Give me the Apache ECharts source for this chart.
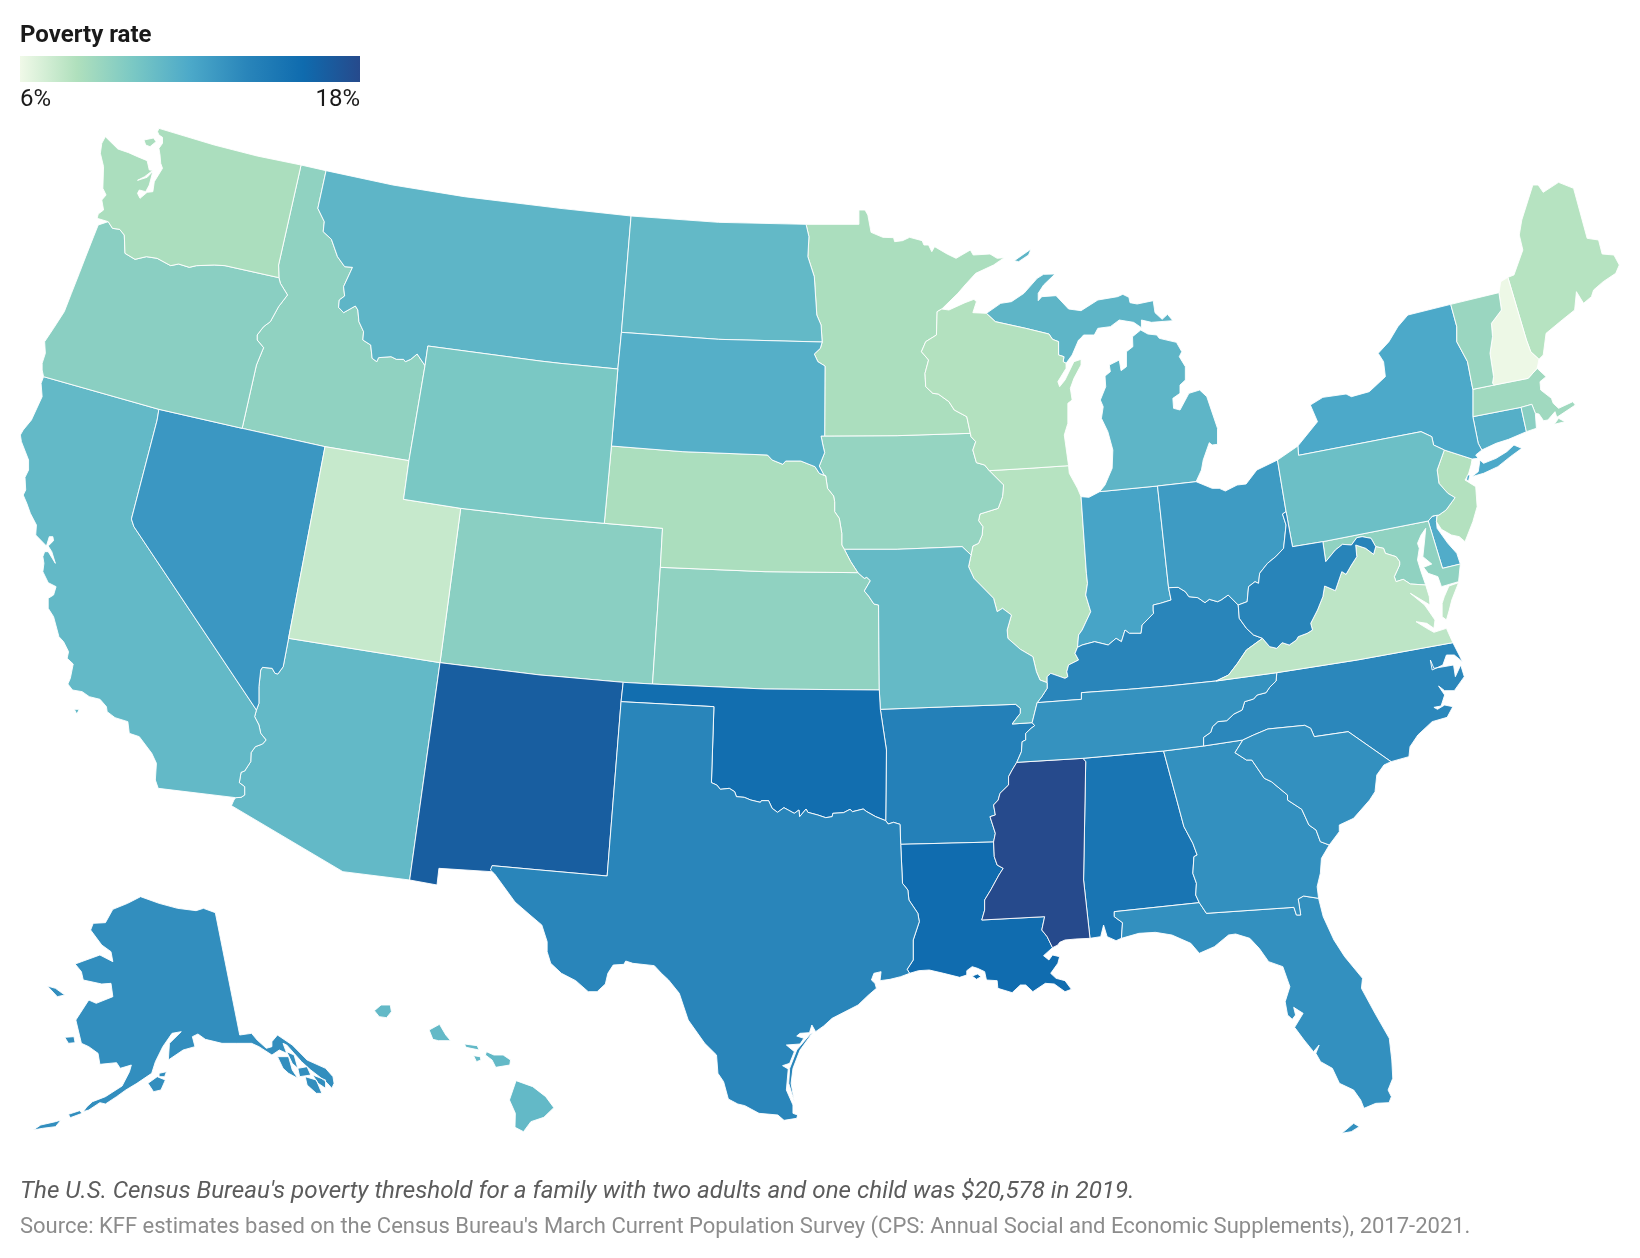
<!DOCTYPE html>
<html>
<head>
<meta charset="utf-8">
<title>Poverty rate</title>
<script src="https://cdn.jsdelivr.net/npm/echarts@6/dist/echarts.min.js"></script>
<style>
  html, body { margin: 0; background: #fff; }
  #chart { width: 1640px; height: 1258px; }
</style>
</head>
<body>
<div id="chart"></div>
<script>
// values
var stateNames = ['AL','AK','AZ','AR','CA','CO','CT','DE','DC','FL','GA','HI','ID','IL','IN','IA','KS','KY','LA','ME','MD','MA','MI','MN','MS','MO','MT','NE','NV','NH','NJ','NM','NY','NC','ND','OH','OK','OR','PA','RI','SC','SD','TN','TX','UT','VT','VA','WA','WV','WI','WY'];
var povertyRates = [15.2,13.5,11,14.4,11,9.4,11.6,11.8,17.8,13.4,13.4,11,9.2,7.8,12.3,9,9.2,14,15.9,7.8,9.2,8.6,11.2,8.2,18,10.9,11.2,8.2,13,6.1,7.9,16.8,12,13.9,11,12.8,15.8,9.4,10.6,9.4,13.4,11.6,13.3,14,7.3,8.8,7.6,8.2,14.1,7.9,10];
var scaleMin = 6, scaleMax = 18;
var scaleColors = ['#f0f9e8','#b0e0bd','#7ac8c4','#4ca9c9','#2985ba','#0f6bae','#264a8c'];

// outlines traced on enlarged sheets, each sheet has its own origin and x scale
function sheet(ox, oy, sx) {
  return function () {
    var pts = [];
    for (var i = 0; i < arguments.length; i += 2) {
      pts.push([ox + arguments[i] / sx, oy + arguments[i + 1] / 3]);
    }
    return pts;
  };
}
var A = sheet(0, 0, 2.8), B = sheet(540, 130, 2.8), C = sheet(1080, 160, 2.8), D = sheet(0, 420, 2.8),
    E = sheet(540, 560, 2.8), F = sheet(1000, 600, 2.8), G = sheet(0, 880, 2.703), H = sheet(700, 900, 2.119);
function r(a) { return a.slice().reverse(); }
function ring() {
  var out = [];
  for (var i = 0; i < arguments.length; i++) out = out.concat(arguments[i]);
  out.push(out[0]);
  return out;
}

// shared borders
var wa_id = A(843,495,780,795,781,833);
var wa_or = A(781,833,630,797,600,795,550,797,530,802,500,792,478,797,440,775,410,770,378,778,350,760,348,705,335,688,315,685,303,665);
var or_id = A(781,833,785,850,805,885,780,920,757,965,738,980,720,1005,720,1020,738,1043,718,1095,678,1285);
var or_nv = A(678,1285,445,1228);
var or_ca = A(445,1228,122,1130);
var id_mt = A(913,512,890,625,908,665,905,695,928,718,945,770,965,800,987,802,962,860,965,888,950,900,948,922,962,938,995,918,1002,930,1005,965,1018,995,1016,1020,1038,1035,1042,1075,1055,1085,1060,1073,1095,1070,1110,1078,1130,1078,1135,1085,1150,1078,1168,1062,1190,1097);
var id_wy = A(1190,1097).concat(D(1145,122));
var id_ut = D(1145,122,910,80);
var id_nv = D(910,80).concat(A(678,1285));
var mt_nd = B(255,258,228,607);
var mt_sd = B(228,607,218,717);
var mt_wy = B(218,717).concat(A(1568,1090), B(0,693), A(1198,1038,1190,1097));
var wy_sd = B(218,717,200,948);
var wy_ne = B(200,948,180,1180);
var wy_co = B(180,1180,0,1163).concat(D(1290,265));
var wy_ut = D(1290,265,1130,238,1145,122);
var ut_co = D(1290,265,1232,728);
var ut_az = D(1232,728,808,655);
var ut_nv = D(808,655,910,80);
var nv_az = D(808,655,793,740,778,762,770,760,762,745,735,742,730,750,725,800,725,850,718,870);
var nv_ca = D(718,870,375,320,368,297,440,0).concat(A(445,1228));
var ca_az = D(718,870,713,890,725,915,730,940,745,960,735,972,715,980,703,998,702,1025,685,1053,675,1057,670,1088,685,1100,685,1125,675,1132,660,1133);
var az_nm = D(1232,728,1147,1380);
var co_nm = D(1232,728).concat(E(0,345), D(1568,770), E(233,367));
var co_ok = E(233,367,315,372);
var co_ks = E(315,372,337,22);
var co_ne = E(337,22).concat(B(343,1195,180,1180));
var nm_ok = E(233,367,227,425);
var nm_tx = E(227,425,188,948,0,930).concat(D(1378,1337));
var ok_ks = E(315,372,630,387,950,390);
var ok_mo = E(950,390,953,448);
var ok_ar = E(953,448,970,570,968,782);
var ok_tx = E(968,782,940,770,915,755,905,747,875,755,868,748,850,758,820,760,818,770,800,773,778,765,750,757,745,747,727,770,725,750,712,760,695,750,683,743,665,757,650,745,640,722,620,722,617,727,590,720,572,712,550,710,545,695,530,685,505,688,495,675,480,668,487,440,227,425);
var ks_mo = E(950,390,948,135,935,132,920,108,908,93,925,62,915,52,908,55,890,38);
var ks_ne = E(890,38,630,35,337,22);
var ne_sd = B(200,948,400,965,637,975,650,990,680,1003,688,993,730,993,770,1010,782,1030,800,1038);
var ne_ia = B(800,1038,805,1075,822,1098,825,1115,825,1145,838,1165,845,1210,845,1245,852,1258);
var ne_mo = B(852,1258,870,1295).concat(E(890,38));
var nd_mn = B(745,283,753,320,750,380,768,440,775,555,787,585,790,636);
var nd_sd = B(790,636,500,628,228,607);
var sd_mn = B(790,636,785,655,768,672,778,695,798,708,797,918);
var sd_ia = B(797,918,787,918,792,945,797,968,782,1008,795,1035,800,1038);
var mn_wi = B(1125,537,1112,545,1110,615,1080,635,1068,665,1088,690,1078,730,1080,770,1100,790,1115,792,1145,815,1160,840,1195,860,1205,910);
var mn_ia = B(1205,910,1000,917,797,918);
var wi_mi = B(1250,550,1275,575,1360,595,1425,612,1435,628,1452,635,1452,675,1467,680,1465,695,1473,700);
var wi_il = B(1480,1007,1370,1015,1258,1022);
var wi_ia = B(1258,1022,1245,1005,1222,998,1212,960,1220,935,1207,920,1205,910);
var il_ia = B(1258,1022,1298,1065,1295,1100,1283,1135,1232,1152,1228,1172,1240,1190,1238,1215,1228,1240,1212,1248,1207,1275);
var ia_mo = B(1207,1275,1182,1250,1000,1258,852,1258);
var il_in = B(1515,1100,1530,1330).concat(E(1533,70,1528,105,1542,155,1518,210,1508,225,1505,262));
var il_ky = E(1505,262,1498,280,1508,300,1480,315,1475,335,1478,350,1470,355,1430,340,1420,350,1420,368);
var il_mo = E(1420,368,1400,360,1390,335,1380,290,1345,268,1310,235,1308,210,1320,165,1295,145,1280,155,1270,115,1215,55).concat(B(1200,1310,1207,1275));
var mo_ky = E(1420,368,1420,385,1405,410,1392,428);
var mo_tn = E(1392,428,1378,488);
var mo_ar = E(1378,488,1322,492,1345,460,1345,445,1332,433,1150,440,953,448);
var ar_tn = E(1378,488,1385,497,1375,505,1360,520,1360,540,1350,545,1348,575,1335,607);
var ar_ms = E(1335,607,1322,630,1312,650,1312,675,1288,700,1283,720,1270,735,1275,765,1260,770,1275,820,1270,846);
var ar_la = E(1270,846,1010,853);
var ar_tx = E(1010,853,1008,793,990,787,975,792,968,782);
var la_ms = E(1270,846,1272,890,1280,915,1297,925,1285,945,1262,990,1245,1020,1245,1050,1237,1080,1413,1070,1405,1110,1420,1130,1435,1163);
var la_tx = E(1035,1240,1028,1228,1045,1200,1045,1140,1062,1085,1058,1060,1033,1020,1030,990,1015,970,1010,853);
var ms_tn = E(1335,607,1520,595);
var ms_al = E(1520,595,1528,605,1525,780,1522,960,1540,1135);
var tn_ky = E(1392,428).concat(F(228,298,228,278,360,268,470,258,605,243));
var tn_va = F(605,243,775,218);
var tn_nc = F(775,218,773,243,755,262,745,278,720,285,710,297,685,305,678,330,655,342,635,362,610,365,595,380,590,397,570,412,570,438);
var tn_ga = F(570,438,458,453);
var tn_al = F(458,453).concat(E(1520,595));
var ky_va = F(605,243,640,225,665,190,690,150,735,115);
var ky_wv = F(735,115,710,105,690,85,670,55).concat(C(443,1335));
var ky_oh = C(443,1335,415,1305,395,1320,385,1325,362,1318,350,1328,330,1313,305,1310,295,1295,275,1282,248,1283);
var ky_in = C(248,1283,255,1320,225,1330,205,1335,205,1350).concat(F(430,40,398,75,395,100,362,100,350,90,340,125,325,115,303,135,265,125,230,135), E(1505,262));
var in_mi = C(55,995,217,978);
var in_oh = C(217,978,248,1283);
var oh_mi = C(217,978,325,965);
var oh_pa = C(553,900,577,1055);
var oh_wv = C(577,1055,567,1062,577,1095,570,1165,548,1190,525,1210,503,1240,500,1270,490,1265,472,1280,468,1325,443,1335);
var wv_pa = C(577,1055,595,1160,680,1145);
var wv_md = C(680,1145,688,1205,715,1170,735,1153,760,1155,775,1133,790,1130,815,1135,828,1160,822,1183);
var wv_va = C(822,1183,800,1165,772,1155,775,1190,760,1215,745,1243,733,1235,715,1292,685,1278,680,1310,665,1350).concat(F(870,70,875,90,860,100,835,110,830,120,810,135,790,128,775,145,755,140,735,115));
var md_pa = C(680,1145,975,1083);
var md_va = C(885,1265,880,1250,895,1215,895,1205,885,1190,855,1180,850,1165,828,1160,822,1183);
var pa_ny = C(610,858,612,886,955,815,985,830,990,855,1020,870);
var pa_nj = C(1020,870,1000,930,1005,970,1030,1000,1050,1013,1025,1050,1005,1065,987,1068);
var ny_vt = C(1038,433,1055,500,1055,545,1085,605,1100,688);
var ny_ma = C(1100,688,1100,770);
var ny_ct = C(1100,770,1115,850,1125,870);
var ny_nj = C(1098,897,1020,870);
var ct_ri = C(1235,742,1250,815);
var ct_ma = C(1235,742,1100,770);
var vt_nh = C(1173,398,1180,450,1152,490,1155,530,1148,580,1158,650,1155,670,1160,675);
var nh_me = C(1198,352,1250,540,1262,575,1285,598);
var va_nc = F(775,218,1000,180,1268,128);
var nc_sc = F(1095,485,975,395,880,410,870,385,853,376,750,387,710,405,680,420);
var nc_ga = F(680,420,570,438);
var sc_ga = F(680,420,658,458,690,480,705,480,740,535,760,545,805,585,805,600,845,628,865,675,885,690,897,725,922,735);
var sc_coast = F(922,735,950,695,950,675,990,655,1035,600,1050,575,1055,525,1075,495,1095,485);
var ga_fl = F(892,895,850,888,835,897,842,945,830,945,823,922,578,940,558,908);
var ga_al = F(558,908,548,885,550,850,540,820,543,770,552,765,540,730,515,680,495,600,458,453);
var al_fl = F(558,908,320,935,320,950,343,968,340,1015);

// state shapes, a list of rings each
var shapes = {
  WA: [ring(A(445,385,600,435,720,468,843,495), wa_id, wa_or, A(272,655,275,642,290,630,285,600,297,585,288,565,290,500,281,460,285,430,295,410,330,447,360,458,385,470,412,482,418,510,428,511,405,530,385,541,412,532,428,514,418,555,408,575,390,570,385,580,392,595,412,577,428,575,432,545,455,505,450,490,448,465,445,445,455,430,455,412,445,405,441,395)),
       ring(A(403,420,430,414,437,425,420,440,408,435))],
  OR: [ring(r(wa_or), or_id, or_nv, or_ca, A(118,1110,118,1090,127,1060,125,1025,150,985,180,935,200,880,222,820,240,770,262,710,275,675))],
  ID: [ring(A(843,495), id_mt, id_wy, id_ut, id_nv, r(or_id), r(wa_id))],
  MT: [ring(id_mt.slice(0, 1), A(1100,555,1300,590,1568,625), mt_nd, mt_sd, mt_wy, r(id_mt))],
  WY: [ring(r(mt_wy), wy_sd, wy_ne, wy_co, wy_ut, r(id_wy))],
  UT: [ring(r(id_ut), r(wy_ut), ut_co, ut_az, ut_nv)],
  NV: [ring(r(ut_nv), nv_az, nv_ca, r(or_nv), r(id_nv))],
  CA: [ring(r(or_ca), r(nv_ca), ca_az, D(443,1105,435,1080,438,1030,425,1000,390,950,362,940,358,905,322,893,300,875,298,860,280,838,250,830,230,815,203,810,190,792,197,775,205,732,188,715,192,695,178,665,165,650,150,590,135,565,135,535,150,525,157,500,135,488,120,455,123,430,120,410,125,395,135,395,155,430,145,395,135,378,150,362,148,350,138,350,130,378,100,345,102,315,85,280,75,250,65,225,72,210,70,172,80,150,80,120,60,65,57,45,65,30,88,0), A(118,1190,115,1150)),
       ring(D(208,868,222,868,215,882))],
  AZ: [ring(r(ut_az), az_nm, D(960,1355,648,1157,655,1140), r(ca_az), r(nv_az))],
  CO: [ring(wy_co, ut_co, co_nm, co_ok, co_ks, co_ne)],
  NM: [ring(r(co_nm), az_nm, [[437,885]], D(1229,1345,1376,1355), r(nm_tx), r(nm_ok))],
  OK: [ring(co_ok, ok_ks, ok_mo, ok_ar, ok_tx, r(nm_ok))],
  KS: [ring(r(co_ks), ok_ks, ks_mo, ks_ne)],
  NE: [ring(ne_sd, ne_ia, ne_mo, ks_ne, co_ne, r(wy_ne))],
  ND: [ring(B(255,258,500,277,745,283), nd_mn, nd_sd, r(mt_nd))],
  SD: [ring(r(nd_sd), sd_mn, sd_ia, r(ne_sd), r(wy_sd), r(mt_sd))],
  MN: [ring(B(745,283,893,283,893,240,910,240,918,255,927,307,960,322,990,323,993,335,1015,332,1035,322,1070,332,1075,345,1088,345,1097,365,1105,350,1140,372,1165,385,1205,360,1213,375,1260,372,1280,385,1300,383,1270,405,1220,430,1190,465,1170,490), mn_wi, mn_ia, r(sd_mn), r(nd_mn))],
  IA: [ring(r(mn_ia), r(wi_ia), il_ia, ia_mo, r(ne_ia), r(sd_ia))],
  WI: [ring(B(1125,537,1145,540,1190,518,1215,508,1222,515,1212,548), wi_mi, B(1473,715,1450,755,1455,770,1470,750,1495,695,1515,688,1515,705,1495,745,1485,775,1490,810,1478,820,1478,880,1468,915), wi_il, wi_ia, r(mn_wi))],
  IL: [ring(r(wi_il), B(1482,1030,1505,1075), il_in, il_ky, il_mo, r(il_ia))],
  MO: [ring(r(ia_mo), r(il_mo), mo_ky, mo_tn, mo_ar, r(ok_mo), ks_mo, r(ne_mo))],
  AR: [ring(r(mo_ar), ar_tn, ar_ms, ar_la, ar_tx, r(ok_ar))],
  LA: [ring(r(ar_la), la_ms, E(1410,1187,1425,1200,1435,1185,1455,1190,1450,1210,1430,1240,1445,1255,1470,1262,1488,1288,1470,1295,1440,1272,1415,1270,1380,1295,1360,1275,1345,1275,1322,1298,1282,1285,1280,1262,1250,1260,1245,1235,1225,1225,1210,1220,1195,1232,1195,1245,1175,1252,1130,1240,1090,1230,1060,1232), la_tx),
       ring(E(1210,1248,1225,1242,1235,1250,1222,1258))],
  TX: [ring(r(nm_tx), r(ok_tx), r(ar_tx), r(la_tx), E(1010,1250,980,1258,952,1262,955,1235,935,1240,928,1260,938,1270,942,1285,920,1305), H(335,315,280,355,262,378,245,395,237,375,232,398,212,400,205,408,220,415,212,432,183,435,200,455,190,490,175,497,187,507,183,570,197,615,197,640,207,645,205,655,178,661,165,645,125,640,95,617,80,612,60,597,50,545,38,520,35,465,10,430), E(415,1380,390,1300,360,1260,340,1240,320,1217,260,1210,240,1203,235,1213,205,1215,190,1240,183,1272,160,1295,135,1295,100,1262,60,1240,30,1210,20,1175,20,1145,5,1095), [[530,915],[515,902],[499,880]], D(1385,1362,1373,1350)),
       ring(H(200,605,188,550,190,505,205,450,232,405,240,395,212,450,197,505,193,550))],
  MS: [ring(r(ar_ms), ms_tn, ms_al, E(1500,1137,1470,1140,1455,1147,1450,1155), r(la_ms))],
  TN: [ring(tn_ky, tn_va, tn_nc, tn_ga, tn_al, r(ms_tn), r(ar_tn), r(mo_tn))],
  KY: [ring(il_ky, mo_ky, tn_ky, ky_va, ky_wv, ky_oh, ky_in)],
  IN: [ring(C(3,1010,25,1012), in_mi, in_oh, ky_in, r(il_in))],
  OH: [ring(oh_mi, C(370,985,390,985,407,993,440,975,465,972,495,930), oh_pa, oh_wv, ky_oh, r(in_oh))],
  WV: [ring(wv_pa, wv_md, wv_va, ky_wv, r(oh_wv))],
  PA: [ring(C(553,900), pa_ny, pa_nj, md_pa.slice(1).reverse(), r(wv_pa), r(oh_pa))],
  NY: [ring(C(665,785,645,735,680,712,745,702,760,710,810,695,855,650,850,605,835,580,865,545,890,500,918,465), ny_vt, ny_ma, ny_ct, C(1108,885,1115,895), ny_nj, r(pa_ny)),
       ring(C(1097,950,1115,935,1120,900,1130,910,1165,895,1195,875,1215,855,1237,865,1205,890,1170,920,1130,940)),
       ring(C(1085,945,1092,945,1088,962,1082,960))],
  NJ: [ring(r(ny_nj), C(1095,915,1087,945,1078,960,1108,980,1112,1040,1100,1085,1078,1145,1062,1130,1040,1125,1012,1108,998,1085,1000,1065), r(pa_nj))],
  DE: [ring(C(975,1083,987,1068,1000,1065,998,1085,1000,1105,1030,1150,1055,1180,1065,1212,1015,1225))],
  MD: [ring(md_pa, C(1015,1225,1065,1212,1060,1265,1012,1280,1002,1250,975,1240,962,1222,985,1212,960,1190,965,1140,968,1105,955,1125,945,1150,950,1165,945,1200,955,1235,968,1275,925,1272,905,1258), md_va, r(wv_md))],
  DC: [ring(C(888,1195,897,1190,903,1198,895,1206))],
  VA: [ring(tn_va, va_nc, F(1250,85,1215,97,1195,85,1165,65,1195,70,1215,85,1218,60), C(965,1335,925,1300,980,1335,978,1310,968,1275,925,1272,905,1258), md_va, wv_va, r(ky_va)),
       ring(C(1060,1268,1033,1278,1020,1310), F(1238,10,1238,50,1250,60,1258,30,1265,0))],
  NC: [ring(va_nc, F(1295,185,1272,165,1250,165,1240,195,1210,210,1205,180,1215,205,1270,195,1275,230,1290,195,1300,230,1272,272,1245,272,1228,258,1245,285,1235,318,1215,322,1225,328,1245,315,1268,320,1252,352,1210,365,1170,405,1148,440,1145,470), nc_sc, nc_ga, r(tn_nc))],
  SC: [ring(r(nc_sc), r(sc_coast), r(sc_ga))],
  GA: [ring(r(tn_ga), r(nc_ga), sc_ga, F(900,775,897,820,888,860), ga_fl, ga_al)],
  AL: [ring(r(tn_al), r(ga_al), al_fl, F(325,1022,300,1010,290,975,282,1010), r(ms_al))],
  FL: [ring(r(ga_fl), F(905,950,935,1020,965,1070,1015,1135,1012,1165,1050,1240,1090,1315,1097,1380), H(1468,535,1458,570,1465,590,1460,608,1432,610,1407,625,1400,600,1385,570,1355,550,1340,505,1315,485,1305,460,1312,435,1300,455,1280,420,1260,382,1278,340,1258,322,1262,345,1255,358,1245,345,1240,305,1250,260,1235,200,1205,185,1185,145,1165,115,1135,102,1120,105,1090,140,1058,160,1040,130,1000,105,965,97,930,100), r(al_fl)),
       ring(H(1360,700,1385,670,1397,680,1380,695))],
  MI: [ring(wi_mi, B(1490,675,1508,630), C(0,537,10,525,40,525,50,505,85,500,110,480,150,487,172,503,172,480,200,487,260,482,245,463,230,478,210,458,205,422,160,432,140,428,137,412,120,403,105,410,50,420), B(1515,542,1480,537,1445,497,1405,500,1395,512,1395,490,1410,465,1442,432,1410,433,1392,445,1355,490,1320,515,1290,520)),
       ring(C(55,995,70,975,90,925,92,870,78,815,60,775,65,740,57,720,72,680,70,648,85,635,82,615,110,600,115,632,130,620,130,575,148,560,147,530,170,510,190,522,215,525,222,535,270,547,285,575,278,590,295,620,295,660,280,675,280,700,260,715,262,745,280,750,305,700,335,690,355,710,385,805,385,853,370,855,362,848,345,900,340,930), r(oh_mi), r(in_mi)),
       ring(B(1328,392,1375,357,1368,375,1340,395))],
  CT: [ring(ny_ct, C(1165,850,1200,838), r(ct_ri), ct_ma)],
  RI: [ring(C(1265,733,1275,760,1278,805), r(ct_ri))],
  MA: [ring(C(1100,688,1160,675,1255,655,1280,625,1305,650,1288,665,1290,690,1320,715,1325,730,1340,745,1380,725,1387,735,1335,772,1330,755,1310,780,1298,782,1285,762,1275,760,1265,733), ct_ma),
       ring(C(1340,775,1358,785,1328,793))],
  VT: [ring(C(1038,433), vt_nh, r(ny_vt).slice(0, -1))],
  NH: [ring(C(1178,365), nh_me, C(1280,625,1255,655), r(vt_nh))],
  ME: [ring(r(nh_me), C(1215,345,1240,270,1230,225,1237,180,1268,75,1283,75,1297,97,1340,67,1382,85,1420,235,1452,240,1462,282,1495,285,1510,315,1500,340,1465,365,1438,390,1432,410,1410,430,1390,395,1385,450,1350,480,1305,520,1297,585))],
  AK: [ring(G(582,98,648,465,680,460,695,480,720,505,735,500,735,485,750,465,790,495,830,540,880,565,900,590,903,610,897,625,885,610,875,600,840,570,815,545,795,520,775,495,765,490,775,520,755,510,735,525,700,500,680,490,640,490,600,490,555,478,535,462,520,470,527,500,495,510,455,540,458,490,490,455,465,460,440,500,420,545,410,580,370,610,340,630,315,650,285,672,270,668,240,690,225,695,235,680,250,665,285,650,330,618,350,575,355,555,325,565,315,548,270,553,265,520,240,500,220,490,205,420,240,360,260,370,305,350,300,310,275,312,225,300,220,275,203,252,270,225,305,245,300,215,275,195,245,150,252,130,285,128,305,88,345,70,380,50,430,70,480,85,530,92,550,85)),
       ring(G(175,472,200,470,203,488,185,490)),
       ring(G(128,318,150,325,175,345,155,350)),
       ring(G(400,610,425,590,447,600,435,630,415,635)),
       ring(G(430,580,450,575,445,590,430,590)),
       ring(G(185,703,215,692,222,700,190,713)),
       ring(G(90,750,110,735,150,725,165,720,150,740,115,745)),
       ring(G(750,530,780,530,790,570,805,595,780,580,765,565)),
       ring(G(775,515,795,525,805,565,790,550)),
       ring(G(805,565,830,560,840,585,810,590)),
       ring(G(825,590,855,600,870,640,855,640,830,615)),
       ring(G(845,585,880,600,880,625,860,610))],
  HI: [ring(G(1395,602,1440,620,1475,650,1497,683,1470,712,1435,725,1415,755,1392,742,1393,700,1377,660)),
       ring(G(1315,515,1335,525,1360,525,1380,540,1378,555,1340,562,1330,540,1312,525)),
       ring(G(1280,527,1298,530,1300,540,1288,545)),
       ring(G(1255,492,1290,497,1295,510,1260,502)),
       ring(G(1160,450,1188,433,1205,465,1218,482,1185,482,1170,478)),
       ring(G(1012,392,1030,375,1055,375,1058,395,1045,413,1025,410))]
};

var features = [], xs = [], ys = [];
stateNames.forEach(function (name) {
  features.push({
    type: 'Feature',
    properties: { name: name },
    geometry: { type: 'MultiPolygon', coordinates: shapes[name].map(function (c) { return [c]; }) }
  });
  shapes[name].forEach(function (c) {
    c.forEach(function (p) { xs.push(p[0]); ys.push(p[1]); });
  });
});
echarts.registerMap('usa', { type: 'FeatureCollection', features: features });

var left = Math.min.apply(null, xs), right = Math.max.apply(null, xs);
var top_ = Math.min.apply(null, ys), bottom = Math.max.apply(null, ys);

var chart = echarts.init(document.getElementById('chart'), null, { renderer: 'canvas' });
var font = 'Roboto, sans-serif';
var legendStops = scaleColors.map(function (c, i) {
  return { offset: i / (scaleColors.length - 1), color: c };
});
chart.setOption({
  backgroundColor: '#fff',
  animation: false,
  textStyle: { fontFamily: font },
  visualMap: {
    type: 'continuous',
    show: false,
    min: scaleMin,
    max: scaleMax,
    inRange: { color: scaleColors }
  },
  series: [{
    type: 'map',
    map: 'usa',
    projection: { project: function (p) { return p; }, unproject: function (p) { return p; } },
    left: left,
    top: top_,
    width: right - left,
    height: bottom - top_,
    roam: false,
    silent: true,
    label: { show: false },
    itemStyle: { borderColor: '#fff', borderWidth: 0.9 },
    data: stateNames.map(function (n, i) { return { name: n, value: povertyRates[i] }; })
  }],
  graphic: [
    { type: 'rect', shape: { x: 20, y: 56, width: 340, height: 26 }, style: { fill: new echarts.graphic.LinearGradient(0, 0, 1, 0, legendStops) } },
    { type: 'text', left: 20, top: 24, style: { text: 'Poverty rate', font: 'bold 24px ' + font, fill: '#1a1a1a' } },
    { type: 'text', left: 20, top: 88, style: { text: scaleMin + '%', font: '24px ' + font, fill: '#1a1a1a' } },
    { type: 'text', right: 1280, top: 88, style: { text: scaleMax + '%', font: '24px ' + font, fill: '#1a1a1a' } },
    { type: 'text', left: 20, top: 1180, style: { text: "The U.S. Census Bureau's poverty threshold for a family with two adults and one child was $20,578 in 2019.", font: 'italic 24.2px ' + font, fill: '#5c5c5c' } },
    { type: 'text', left: 20, top: 1216, style: { text: "Source: KFF estimates based on the Census Bureau's March Current Population Survey (CPS: Annual Social and Economic Supplements), 2017-2021.", font: '22px ' + font, fill: '#8c8c8c' } }
  ]
});
</script>
</body>
</html>
